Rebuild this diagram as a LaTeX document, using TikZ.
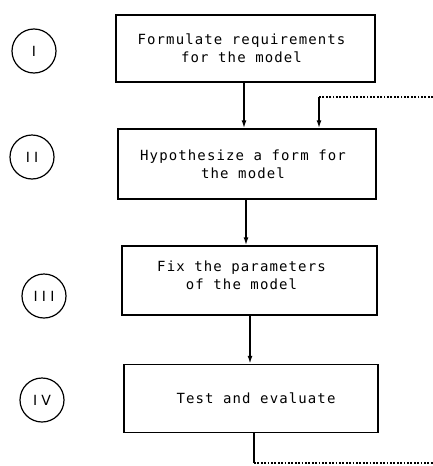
\documentclass[tikz,border=0pt]{standalone}
\usepackage{fontspec}
\usetikzlibrary{arrows.meta}
\newfontfamily\boxfont[LetterSpace=8]{DejaVu Sans Mono}
\newfontfamily\numfont[LetterSpace=30]{DejaVu Sans}
\begin{document}
\begin{tikzpicture}[x=1pt,y=-1pt,
  stepbox/.style={draw,line width=1.5pt,rectangle,inner sep=0pt},
  steptext/.style={inner sep=0pt,align=center,
    font=\boxfont\fontsize{14}{18}\selectfont},
  stage/.style={draw,line width=1.2pt,circle,inner sep=0pt,minimum size=44pt,
    font=\numfont\fontsize{14}{16}\selectfont},
  arr/.style={line width=1.5pt,-{Latex[length=8pt,width=5pt]}},
  link/.style={line width=1.5pt},
  loopline/.style={line width=1.8pt,dash pattern=on 1.8pt off 1.6pt}]
\useasboundingbox (0,0) rectangle (433,466);

% process steps
\node[stepbox,minimum width=259pt,minimum height=67pt] (b1) at (245.5,48.5) {};
\node[stepbox,minimum width=258pt,minimum height=70pt] (b2) at (247,164) {};
\node[stepbox,minimum width=255pt,minimum height=69pt] (b3) at (249.5,280.5) {};
\node[stepbox,minimum width=254pt,minimum height=68pt] (b4) at (251,398.5) {};

\node[steptext] (t1) at ([xshift=-4pt]b1.center) {Formulate requirements\\for the model};
\node[steptext] (t2) at ([xshift=-4pt]b2.center) {Hypothesize a form for\\the model};
\node[steptext] (t3) at ([xshift=-8pt,yshift=5pt]b3.center) {Fix the parameters\\of the model};
\node[steptext] (t4) at ([xshift=5pt]b4.center) {Test and evaluate};

% stage numbers
\node[stage] (s1) at (34,51) {I};
\node[stage] (s2) at (32,157) {II};
\node[stage] (s3) at (44,296) {III};
\node[stage] (s4) at (42,400) {IV};

% main flow
\coordinate (a1) at (244,0);
\coordinate (a2) at (246,0);
\coordinate (a3) at (250,0);
\draw[arr] (b1.south -| a1) -- (b2.north -| a1);
\draw[arr] (b2.south -| a2) -- (b3.north -| a2);
\draw[arr] (b3.south -| a3) -- (b4.north -| a3);

% feedback loop
\coordinate (fin) at (433,97);
\coordinate (fturn) at (319,97);
\draw[loopline] (fin) -- (fturn);
\draw[arr] (fturn) -- (b2.north -| fturn);
\coordinate (fout) at (254,463);
\coordinate (fend) at (433,463);
\draw[link] (b4.south -| fout) -- (fout);
\draw[loopline] (fout) -- (fend);
\end{tikzpicture}
\end{document}
